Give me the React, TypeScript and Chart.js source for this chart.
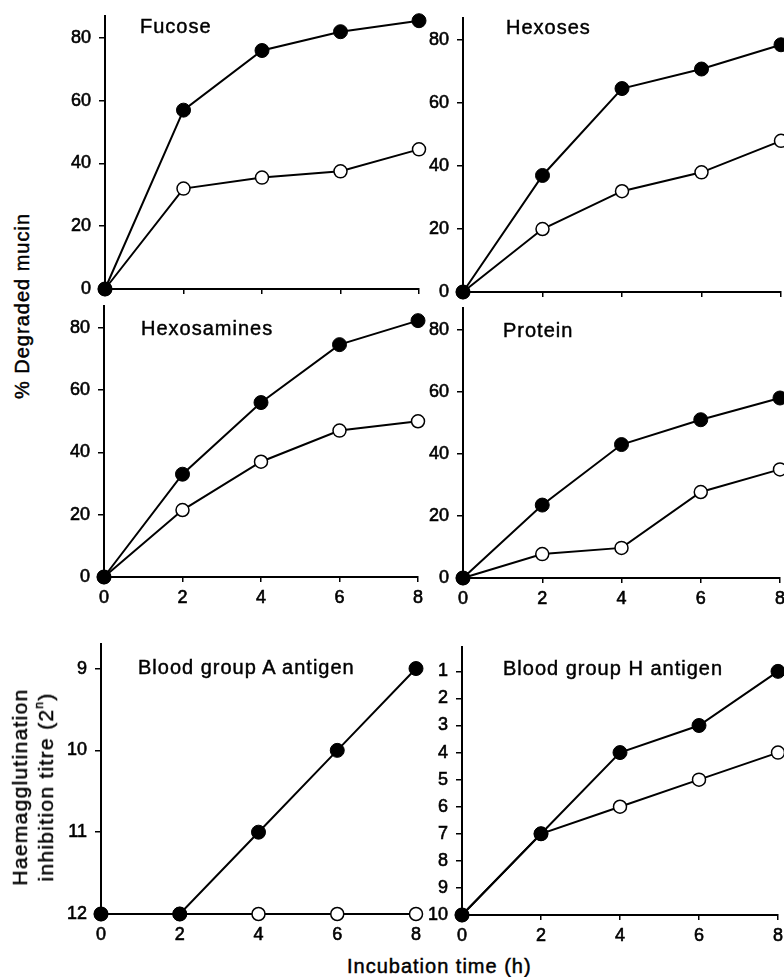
import React, { useEffect, useRef } from 'react';
import { Chart, registerables } from 'chart.js';

Chart.register(...registerables);

// ---------- data ----------
const hours = [0, 2, 4, 6, 8];
const xTicks = [0, 2, 4, 6, 8];
const pctTicks = [0, 20, 40, 60, 80];
const antigenATicks = [9, 10, 11, 12];
const antigenHTicks = [1, 2, 3, 4, 5, 6, 7, 8, 9, 10];

const fucoseFilled = [0, 57, 76, 82, 85.5];
const fucoseOpen = [0, 32, 35.5, 37.5, 44.5];
const hexosesFilled = [0, 37, 64.6, 70.8, 78.5];
const hexosesOpen = [0, 20, 32, 38, 48];
const hexosaminesFilled = [0, 33, 56, 74.6, 82.3];
const hexosaminesOpen = [0, 21.5, 37, 47, 50];
const proteinFilled = [0, 23.5, 43, 51, 58];
const proteinOpen = [0, 7.7, 9.7, 27.7, 35];
const antigenAFilled = [12, 12, 11, 10, 9];
const antigenAOpen = [12, 12, 12, 12, 12];
const antigenHFilled = [10, 7, 4, 3, 1];
const antigenHOpen = [10, 7, 6, 5, 4];

const titles = ['Fucose', 'Hexoses', 'Hexosamines', 'Protein', 'Blood group A antigen', 'Blood group H antigen'];

// ---------- layout ----------
const FONT = "'Liberation Sans', Arial, Helvetica, sans-serif";

type PanelCfg = {
  l: number; t: number; r: number; b: number;
  yMin: number; yMax: number; reverse: boolean;
  yTicks: number[]; filled: number[]; open: number[];
  showX: boolean;
};

const panels: PanelCfg[] = [
  { l: 105, t: 16, r: 419, b: 289, yMin: 0, yMax: 87, reverse: false, yTicks: pctTicks, filled: fucoseFilled, open: fucoseOpen, showX: false },
  { l: 463, t: 18, r: 781, b: 292, yMin: 0, yMax: 87, reverse: false, yTicks: pctTicks, filled: hexosesFilled, open: hexosesOpen, showX: false },
  { l: 104, t: 306, r: 418, b: 577, yMin: 0, yMax: 87, reverse: false, yTicks: pctTicks, filled: hexosaminesFilled, open: hexosaminesOpen, showX: true },
  { l: 463, t: 308, r: 780, b: 578, yMin: 0, yMax: 87, reverse: false, yTicks: pctTicks, filled: proteinFilled, open: proteinOpen, showX: true },
  { l: 101, t: 644, r: 416, b: 914, yMin: 8.7, yMax: 12, reverse: true, yTicks: antigenATicks, filled: antigenAFilled, open: antigenAOpen, showX: true },
  { l: 462, t: 647, r: 778, b: 915, yMin: 0.1, yMax: 10, reverse: true, yTicks: antigenHTicks, filled: antigenHFilled, open: antigenHOpen, showX: true },
];

const WY = 60;
const HX = 40;
const PT = 14;
const PR = 14;

function Panel({ cfg }: { cfg: PanelCfg }) {
  const ref = useRef<HTMLCanvasElement | null>(null);
  const left = cfg.l - WY;
  const top = cfg.t - PT;
  const width = cfg.r - cfg.l + WY + PR;
  const height = cfg.b - cfg.t + PT + HX;

  useEffect(() => {
    if (!ref.current) return;
    const zeroPad = (s: any) => {
      s.paddingLeft = 0; s.paddingRight = 0; s.paddingTop = 0; s.paddingBottom = 0;
    };
    const tickFont = { family: FONT, size: 18 };
    const chart = new Chart(ref.current, {
      type: 'line',
      data: {
        datasets: [
          {
            data: hours.map((x, i) => ({ x, y: cfg.filled[i] })),
            borderColor: '#000',
            borderWidth: 2,
            pointRadius: 7,
            pointBackgroundColor: '#000',
            pointBorderColor: '#000',
            pointBorderWidth: 1,
            tension: 0,
            clip: false as any,
          },
          {
            data: hours.map((x, i) => ({ x, y: cfg.open[i] })),
            borderColor: '#000',
            borderWidth: 2,
            pointRadius: 6.5,
            pointBackgroundColor: '#fff',
            pointBorderColor: '#000',
            pointBorderWidth: 1.5,
            tension: 0,
            clip: false as any,
          },
        ],
      },
      options: {
        responsive: false,
        animation: false,
        events: [],
        layout: { padding: { top: PT, right: PR, left: 0, bottom: 0 } },
        plugins: { legend: { display: false }, tooltip: { enabled: false }, title: { display: false } },
        scales: {
          x: {
            type: 'linear',
            min: 0,
            max: 8,
            afterBuildTicks: (s: any) => { s.ticks = xTicks.map((v) => ({ value: v })); },
            afterFit: (s: any) => { s.height = HX; zeroPad(s); },
            grid: { display: true, drawOnChartArea: false, drawTicks: true, tickLength: 5, color: '#000', lineWidth: 1.5 },
            border: { display: true, color: '#000', width: 2 },
            ticks: {
              display: cfg.showX,
              color: '#000',
              font: tickFont,
              textStrokeColor: '#000',
              textStrokeWidth: 0.6,
              padding: 5,
              maxRotation: 0,
              autoSkip: false,
            },
          },
          y: {
            type: 'linear',
            min: cfg.yMin,
            max: cfg.yMax,
            reverse: cfg.reverse,
            afterBuildTicks: (s: any) => { s.ticks = cfg.yTicks.map((v) => ({ value: v })); },
            afterFit: (s: any) => { s.width = WY; zeroPad(s); },
            grid: { display: true, drawOnChartArea: false, drawTicks: true, tickLength: 6, color: '#000', lineWidth: 1.5 },
            border: { display: true, color: '#000', width: 2 },
            ticks: {
              color: '#000',
              font: tickFont,
              textStrokeColor: '#000',
              textStrokeWidth: 0.6,
              padding: 8,
              autoSkip: false,
            },
          },
        },
      },
    } as any);
    return () => chart.destroy();
  }, []);

  return (
    <canvas
      ref={ref}
      width={width}
      height={height}
      style={{ position: 'absolute', left, top, width, height }}
    />
  );
}

const titleStyle: React.CSSProperties = {
  position: 'absolute',
  fontFamily: FONT,
  fontSize: 20,
  letterSpacing: '1px',
  lineHeight: '20px',
  color: '#000',
  whiteSpace: 'nowrap',
  transform: 'translateY(-50%)',
  WebkitTextStroke: '0.45px #000',
};

const titlePos = [
  { left: 140, top: 26 },
  { left: 506, top: 27 },
  { left: 141, top: 328 },
  { left: 503, top: 330 },
  { left: 138, top: 667 },
  { left: 503, top: 668 },
];

export default function App() {
  return (
    <div
      style={{
        position: 'absolute',
        left: 0,
        top: 0,
        width: 784,
        height: 977,
        overflow: 'hidden',
        background: '#fff',
      }}
    >
      {panels.map((p, i) => (
        <Panel key={i} cfg={p} />
      ))}
      {titles.map((t, i) => (
        <div key={t} style={{ ...titleStyle, left: titlePos[i].left, top: titlePos[i].top }}>
          {t}
        </div>
      ))}
      <div
        style={{
          ...titleStyle,
          left: 22,
          top: 306,
          transform: 'translate(-50%, -50%) rotate(-90deg)',
        }}
      >
        % Degraded mucin
      </div>
      <div
        style={{
          ...titleStyle,
          fontSize: 21,
          letterSpacing: '1.3px',
          left: 33,
          top: 787,
          lineHeight: '26px',
          textAlign: 'center',
          transform: 'translate(-50%, -50%) rotate(-90deg)',
        }}
      >
        Haemagglutination
        <br />
        inhibition titre (2<sup style={{ fontSize: 12, verticalAlign: 'top', lineHeight: '12px' }}>n</sup>)
      </div>
      <div
        style={{
          ...titleStyle,
          left: 347,
          top: 966,
        }}
      >
        Incubation time (h)
      </div>
    </div>
  );
}
